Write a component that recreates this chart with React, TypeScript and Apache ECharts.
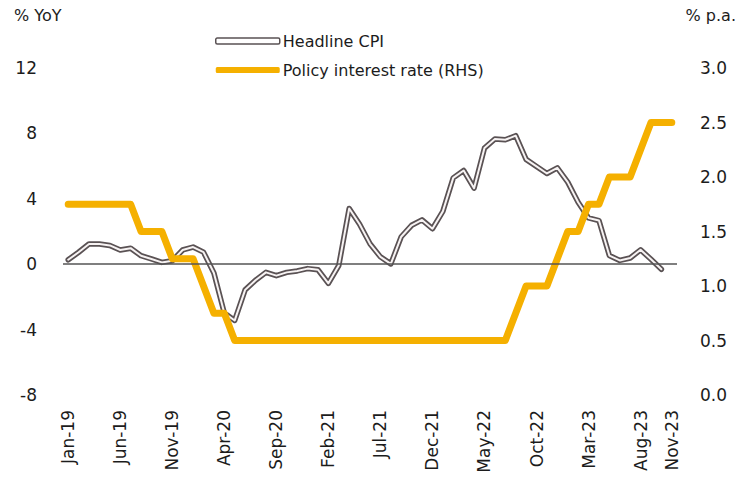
import React, { useEffect, useRef } from "react";
import * as echarts from "echarts";

const months = ["Jan", "Feb", "Mar", "Apr", "May", "Jun", "Jul", "Aug", "Sep", "Oct", "Nov", "Dec"];
const years = ["19", "20", "21", "22", "23"];
const categories: string[] = [];
years.forEach((y) => months.forEach((m) => categories.push(`${m}-${y}`)));
categories.splice(59); // Jan-19 .. Nov-23

const headlineCPI = [
  0.27, 0.73, 1.24, 1.23, 1.15, 0.87, 0.98, 0.52, 0.32, 0.11, 0.21, 0.87,
  1.05, 0.74, -0.54, -2.99, -3.44, -1.57, -0.98, -0.5, -0.7, -0.5, -0.41, -0.27,
  -0.34, -1.17, -0.08, 3.41, 2.44, 1.25, 0.45, 0.02, 1.68, 2.38, 2.71, 2.17,
  3.23, 5.28, 5.73, 4.65, 7.1, 7.66, 7.61, 7.86, 6.41, 5.98, 5.55, 5.89,
  5.02, 3.79, 2.83, 2.67, 0.53, 0.23, 0.38, 0.88, 0.3, -0.31,
];

const policyRate = [
  1.75, 1.75, 1.75, 1.75, 1.75, 1.75, 1.75, 1.5, 1.5, 1.5, 1.25, 1.25,
  1.25, 1.0, 0.75, 0.75, 0.5, 0.5, 0.5, 0.5, 0.5, 0.5, 0.5, 0.5,
  0.5, 0.5, 0.5, 0.5, 0.5, 0.5, 0.5, 0.5, 0.5, 0.5, 0.5, 0.5,
  0.5, 0.5, 0.5, 0.5, 0.5, 0.5, 0.5, 0.75, 1.0, 1.0, 1.0, 1.25,
  1.5, 1.5, 1.75, 1.75, 2.0, 2.0, 2.0, 2.25, 2.5, 2.5, 2.5,
];

const leftTicks = { min: -8, max: 12, interval: 4 };
const rightTicks = { min: 0, max: 3, interval: 0.5 };

const FONT = "DejaVu Sans";
const TEXT = "#1c1c1c";
const ORANGE = "#F5B000";
const CPI_DARK = "#5a5254";

export default function App() {
  const ref = useRef<HTMLDivElement>(null);
  useEffect(() => {
    if (!ref.current) return;
    const chart = echarts.init(ref.current, undefined, { renderer: "svg" });
    chart.setOption({
      animation: false,
      backgroundColor: "#ffffff",
      textStyle: { fontFamily: FONT },
      grid: { left: 63, right: 64, top: 68, bottom: 101, containLabel: false },
      legend: {
        orient: "vertical",
        left: 210,
        top: 28,
        itemWidth: 64,
        itemHeight: 6,
        itemGap: 13,
        textStyle: { fontFamily: FONT, fontSize: 16, color: TEXT, padding: [0, 0, 0, -2] },
        data: [
          {
            name: "Headline CPI",
            icon: "roundRect",
            itemStyle: { color: "#ffffff", borderColor: CPI_DARK, borderWidth: 1.5 },
          },
          { name: "Policy interest rate (RHS)", icon: "roundRect", itemStyle: { color: ORANGE } },
        ],
      },
      xAxis: {
        type: "category",
        data: categories,
        boundaryGap: true,
        axisLine: { show: false, onZero: false },
        axisTick: { show: false },
        axisLabel: {
          rotate: 90,
          margin: 15,
          fontFamily: FONT,
          fontSize: 17,
          color: TEXT,
          interval: (i: number) => i % 5 === 0 || i === 58,
        },
      },
      yAxis: [
        {
          type: "value",
          ...leftTicks,
          splitLine: { show: false },
          axisLine: { show: false },
          axisTick: { show: false },
          axisLabel: { margin: 26, fontFamily: FONT, fontSize: 17, color: TEXT },
        },
        {
          type: "value",
          ...rightTicks,
          position: "right",
          splitLine: { show: false },
          axisLine: { show: false },
          axisTick: { show: false },
          axisLabel: {
            margin: 23,
            fontFamily: FONT,
            fontSize: 17,
            color: TEXT,
            formatter: (v: number) => v.toFixed(1),
          },
        },
      ],
      graphic: [
        { type: "text", left: 14, top: 7, style: { text: "% YoY", font: `16px "${FONT}"`, fill: TEXT } },
        { type: "text", right: 5, top: 7, style: { text: "% p.a.", font: `16px "${FONT}"`, fill: TEXT } },
      ],
      series: [
        {
          name: "Headline CPI",
          type: "line",
          data: headlineCPI,
          yAxisIndex: 0,
          symbol: "none",
          lineStyle: { color: CPI_DARK, width: 5.5, join: "round", cap: "round" },
          itemStyle: { color: CPI_DARK },
          markLine: {
            silent: true,
            symbol: "none",
            label: { show: false },
            lineStyle: { color: "#555", width: 1.5, type: "solid" },
            data: [{ yAxis: 0 }],
          },
          z: 2,
        },
        {
          name: "CPI inner",
          type: "line",
          data: headlineCPI,
          yAxisIndex: 0,
          symbol: "none",
          lineStyle: { color: "#f7f3f3", width: 2, join: "round", cap: "round" },
          z: 3,
        },
        {
          name: "Policy interest rate (RHS)",
          type: "line",
          data: policyRate,
          yAxisIndex: 1,
          symbol: "none",
          lineStyle: { color: ORANGE, width: 7, join: "round", cap: "round" },
          itemStyle: { color: ORANGE },
          z: 4,
        },
      ],
    });
    return () => chart.dispose();
  }, []);
  return <div ref={ref} style={{ width: 741, height: 496, position: "absolute", left: 0, top: 0 }} />;
}
